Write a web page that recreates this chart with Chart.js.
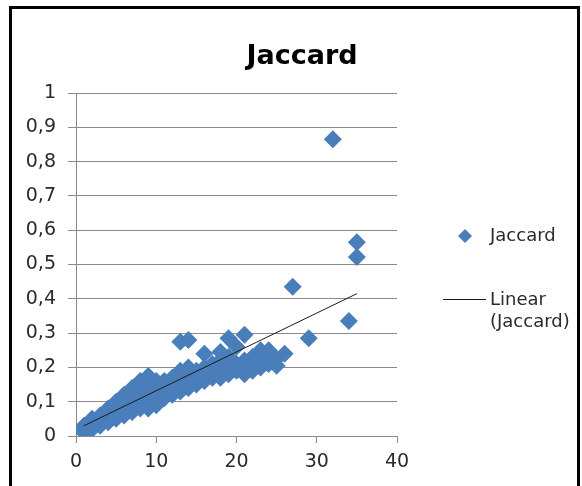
<!DOCTYPE html>
<html>
<head>
<meta charset="utf-8">
<script src="https://cdn.jsdelivr.net/npm/chart.js@4.4.0/dist/chart.umd.min.js"></script>
<style>
    body { margin: 0; background: #ffffff; }
    #wrap { width: 582px; height: 486px; }
</style>
</head>
<body>
<div id="wrap"><canvas id="jaccardChart" width="582" height="486"></canvas></div>
<script>
// Values (x is an integer count, y the Jaccard index)
const jaccardX = [
    1, 1, 1,
    2, 2, 2, 2,
    3, 3, 3, 3,
    4, 4, 4, 4, 4,
    5, 5, 5, 5, 5, 5,
    6, 6, 6, 6, 6,
    7, 7, 7, 7, 7, 7,
    8, 8, 8, 8, 8, 8,
    9, 9, 9, 9, 9, 9,
    10, 10, 10, 10, 10,
    11, 11, 11, 11,
    12, 12, 12, 12,
    13, 13, 13, 13, 13,
    14, 14, 14, 14, 14,
    15, 15, 15,
    16, 16, 16, 16,
    17, 17, 17,
    18, 18, 18, 18,
    19, 19, 19, 19,
    20, 20, 20,
    21, 21, 21, 21,
    22, 22, 22,
    23, 23, 23,
    24, 24, 24,
    25, 25,
    26, 27, 29, 32, 34, 35, 35
];
const jaccardY = [
    0.01, 0.02, 0.03,
    0.02, 0.03, 0.04, 0.05,
    0.03, 0.04, 0.05, 0.06,
    0.04, 0.05, 0.06, 0.07, 0.08,
    0.05, 0.06, 0.07, 0.08, 0.09, 0.10,
    0.06, 0.07, 0.09, 0.10, 0.12,
    0.07, 0.08, 0.10, 0.11, 0.13, 0.14,
    0.08, 0.09, 0.11, 0.13, 0.15, 0.16,
    0.08, 0.10, 0.12, 0.14, 0.16, 0.175,
    0.09, 0.11, 0.13, 0.15, 0.16,
    0.11, 0.12, 0.14, 0.16,
    0.12, 0.13, 0.15, 0.17,
    0.13, 0.15, 0.17, 0.19, 0.275,
    0.14, 0.16, 0.18, 0.20, 0.28,
    0.15, 0.17, 0.19,
    0.16, 0.18, 0.20, 0.24,
    0.17, 0.19, 0.21,
    0.17, 0.19, 0.22, 0.245,
    0.18, 0.20, 0.23, 0.285,
    0.19, 0.21, 0.26,
    0.18, 0.20, 0.22, 0.295,
    0.19, 0.21, 0.23,
    0.20, 0.22, 0.25,
    0.21, 0.23, 0.25,
    0.205, 0.225,
    0.24, 0.435, 0.285, 0.865, 0.335, 0.565, 0.522
];

// Linear trend line ends, as drawn in the reference
const trendX = [1, 35];
const trendY = [0.03, 0.415];

const markerBlue = '#4a7ebb';
const gridGrey = '#8a8a8a';
const textColor = '#2a2a2a';
const fontFamily = '"DejaVu Sans", sans-serif';

// frame, title and legend drawn like the Excel chart
const excelDecor = {
    id: 'excelDecor',
    afterDraw: function(chart) {
        const ctx = chart.ctx;
        ctx.save();

        // outer black frame
        ctx.strokeStyle = '#000';
        ctx.lineWidth = 3;
        ctx.strokeRect(10.5, 7.5, 568, 520);

        // title
        ctx.fillStyle = '#000';
        ctx.font = 'bold 27px ' + fontFamily;
        ctx.textAlign = 'center';
        ctx.textBaseline = 'alphabetic';
        ctx.fillText('Jaccard', 302, 64);

        // legend
        const pts = chart.data.datasets[1];
        const trend = chart.data.datasets[0];
        ctx.textAlign = 'left';
        ctx.textBaseline = 'middle';
        ctx.font = '18px ' + fontFamily;
        ctx.fillStyle = pts.backgroundColor;
        ctx.beginPath();
        ctx.moveTo(465, 229);
        ctx.lineTo(472, 236);
        ctx.lineTo(465, 243);
        ctx.lineTo(458, 236);
        ctx.closePath();
        ctx.fill();
        ctx.fillStyle = textColor;
        ctx.fillText(pts.label, 490, 236);

        ctx.strokeStyle = trend.borderColor;
        ctx.lineWidth = 1;
        ctx.beginPath();
        ctx.moveTo(443, 299.5);
        ctx.lineTo(486, 299.5);
        ctx.stroke();
        ctx.fillText('Linear', 490, 300);
        ctx.fillText('(' + pts.label + ')', 490, 322);

        ctx.restore();
    }
};

document.addEventListener('DOMContentLoaded', function() {
    const points = jaccardX.map(function(x, i) { return { x: x, y: jaccardY[i] }; });
    const trendPoints = trendX.map(function(x, i) { return { x: x, y: trendY[i] }; });

    new Chart(document.getElementById('jaccardChart'), {
        type: 'scatter',
        data: {
            datasets: [{
                type: 'line',
                label: 'Linear (Jaccard)',
                data: trendPoints,
                borderColor: '#1a1a1a',
                borderWidth: 1,
                pointRadius: 0,
                fill: false,
                order: 0
            }, {
                label: 'Jaccard',
                data: points,
                pointStyle: 'rectRot',
                pointRadius: 9,
                pointHoverRadius: 9,
                backgroundColor: markerBlue,
                borderColor: markerBlue,
                borderWidth: 0,
                order: 1
            }]
        },
        options: {
            responsive: false,
            animation: false,
            devicePixelRatio: 1,
            layout: {
                padding: { left: 20, top: 93, right: 185, bottom: 10 }
            },
            scales: {
                x: {
                    type: 'linear',
                    min: 0,
                    max: 40,
                    afterFit: function(scale) { scale.height = 40; },
                    ticks: {
                        stepSize: 10,
                        padding: 8,
                        color: textColor,
                        font: { family: fontFamily, size: 19 }
                    },
                    grid: {
                        drawOnChartArea: false,
                        tickLength: 7,
                        color: gridGrey
                    },
                    border: { color: gridGrey }
                },
                y: {
                    min: 0,
                    max: 1,
                    afterFit: function(scale) { scale.width = 56; },
                    ticks: {
                        stepSize: 0.1,
                        padding: 12,
                        color: textColor,
                        font: { family: fontFamily, size: 19 },
                        callback: function(value) {
                            if (value === 0 || value === 1) return String(value);
                            return value.toFixed(1).replace('.', ',');
                        }
                    },
                    grid: {
                        tickLength: 8,
                        color: gridGrey
                    },
                    border: { color: gridGrey }
                }
            },
            plugins: {
                legend: { display: false },
                title: { display: false },
                tooltip: { enabled: false }
            }
        },
        plugins: [excelDecor]
    });
});
</script>
</body>
</html>
